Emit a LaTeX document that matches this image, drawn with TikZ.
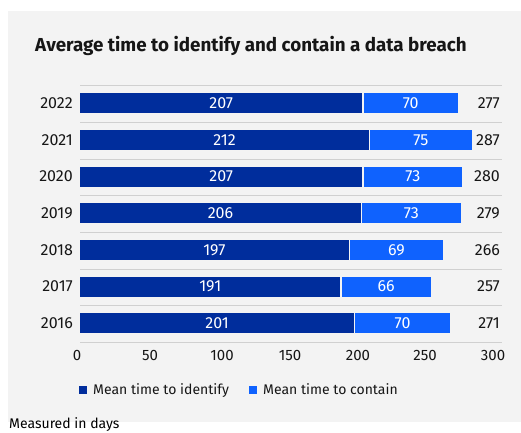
\documentclass[tikz,border=0pt]{standalone}
\usepackage{fontspec}
\setmainfont{Fira Sans}
\definecolor{panel}{HTML}{F3F3F3}
\definecolor{darkblue}{HTML}{002D9C}
\definecolor{lightblue}{HTML}{0F62FE}
\definecolor{ink}{HTML}{161616}
\definecolor{gridc}{HTML}{D0D0D0}
\tikzset{
  seg/.style={rectangle, inner sep=0pt, minimum height=20pt, anchor=west, text=white, font=\fontsize{16}{18}\selectfont},
  idseg/.style={seg, fill=darkblue},
  ctseg/.style={seg, fill=lightblue},
  lab/.style={inner sep=0pt, text=ink, font=\fontsize{16}{18}\selectfont},
  small/.style={lab, font=\fontsize{14}{17}\selectfont},
  gridline/.style={draw=gridc, line width=1pt},
}
\begin{document}
\begin{tikzpicture}[x=1pt,y=-1pt]
\useasboundingbox (0,0) rectangle (521,432);
\fill[white] (0,0) rectangle (521,432);
\fill[panel] (8,11) rectangle (521,421.5);
\node[lab, anchor=base west, font=\fontsize{18.8}{22}\selectfont\bfseries] (title) at (35,51) {Average time to identify and contain a data breach};
% gridlines
\foreach \k in {0,...,7} {
  \draw[gridline] (80,85.7+36.67*\k) -- (502,85.7+36.67*\k);
}
\def\s{1.362}
\foreach \i/\yr/\a/\b/\t in {0/2022/207/70/277, 1/2021/212/75/287, 2/2020/207/73/280, 3/2019/206/73/279, 4/2018/197/69/266, 5/2017/191/66/257, 6/2016/201/70/271} {
  \pgfmathsetmacro{\yc}{103.3+36.67*\i}
  \pgfmathsetmacro{\wa}{\a*\s}
  \pgfmathsetmacro{\wb}{\b*\s-1}
  \node[idseg, minimum width=\wa pt] (id\i) at (80,\yc) {\a};
  \node[ctseg, minimum width=\wb pt] (ct\i) at ([xshift=1pt]id\i.east) {\b};
  \node[lab, anchor=east] (yr\i) at (73,\yc) {\yr};
  \node[lab, anchor=east] (tot\i) at (500,\yc) {\t};
}
% axis tick labels
\foreach \x/\v in {77/0, 150/50, 222/100, 290/150, 358/200, 425/250, 493/300} {
  \node[lab, anchor=base, font=\fontsize{15}{18}\selectfont] (tick\v) at (\x,360.7) {\v};
}
% legend
\node[rectangle, fill=darkblue, minimum size=8pt, inner sep=0pt, anchor=north west] (legid) at (79,386) {};
\node[small, anchor=base west] (legidtext) at (93,394) {Mean time to identify};
\node[rectangle, fill=lightblue, minimum size=8pt, inner sep=0pt, anchor=north west] (legct) at (249,386) {};
\node[small, anchor=base west] (legcttext) at (263,394) {Mean time to contain};
% footnote
\fill[white] (8,421.5) rectangle (122,432);
\node[small, anchor=base west, text=black] (note) at (9,428.5) {Measured in days};
\end{tikzpicture}
\end{document}
